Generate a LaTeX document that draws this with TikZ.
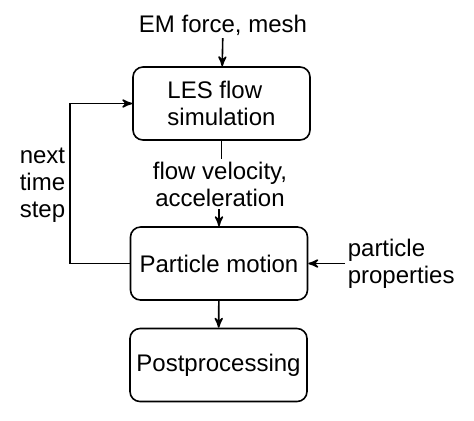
\documentclass[tikz,border=0pt]{standalone}
\usepackage{fontspec}
\setmainfont{Liberation Sans}
\usepackage{tikz}
\usetikzlibrary{arrows,positioning}

\begin{document}
\begin{tikzpicture}[->,>=stealth',x=0.5pt,y=-0.5pt,line width=0.8pt,
                    font=\fontsize{12}{13.5}\selectfont]
  \tikzstyle{block}=[draw,rounded corners=5pt,minimum width=88.5pt,
                     minimum height=36.5pt,inner sep=0pt]
  \tikzstyle{label}=[inner sep=1pt]

  \useasboundingbox (0,0) rectangle (474,420);

  \node[label]              (em)       at (223,25)  {EM force, mesh};
  \node[block,align=left]   (LES)      at (221.5,103.5) {LES flow\\simulation};
  \node[label,align=center] (flowvel)  at (220,184) {flow velocity,\\acceleration};
  \node[block]              (PM)       at (219,263.5) {Particle motion};
  \node[label,align=left,anchor=west] (props) at (345,264) {particle\\properties};
  \node[block]              (PP)       at (218.5,365) {Postprocessing};
  \node[label,align=left,anchor=west] (nextstep) at (17,185) {next\\time\\step};

  \path (em) edge (LES)
        (PM) edge (PP);
  \draw[-] (LES.south) -- (LES.south |- flowvel.north);
  \draw (PM.north |- flowvel.south) -- (PM.north);
  \draw (props.west |- PM.east) -- (PM.east);
  \draw (PM.west) -- ++(-60,0) |- (LES.west);
\end{tikzpicture}
\end{document}
